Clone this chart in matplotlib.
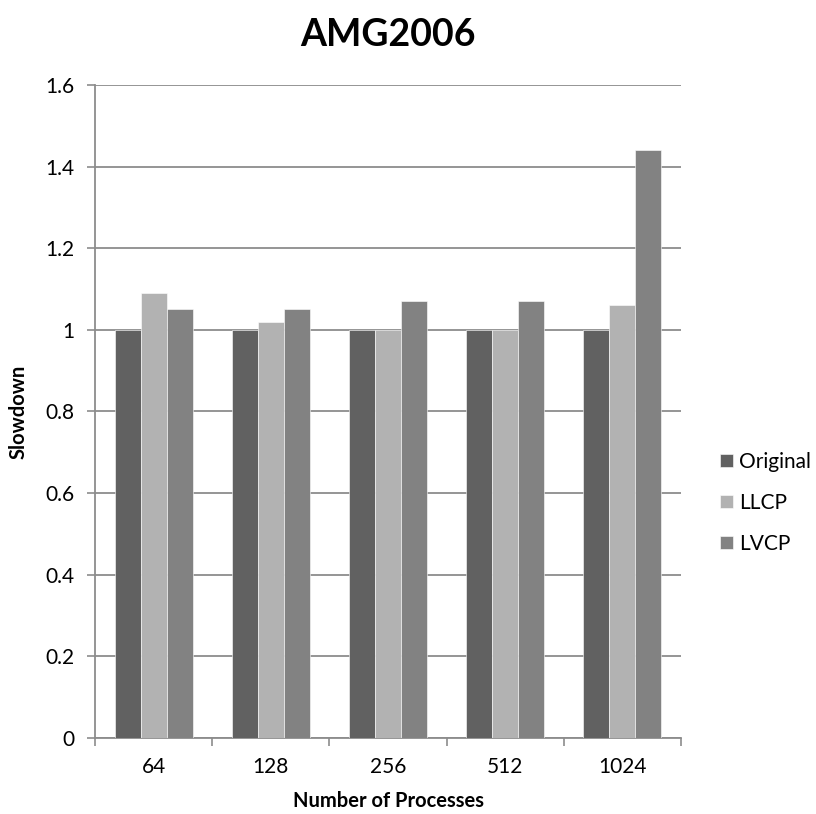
import matplotlib.pyplot as plt
import numpy as np

plt.rcParams['font.family'] = ['Lato', 'DejaVu Sans']

processes = ['64', '128', '256', '512', '1024']
original = [1.0, 1.0, 1.0, 1.0, 1.0]
llcp = [1.09, 1.02, 1.0, 1.0, 1.06]
lvcp = [1.05, 1.05, 1.07, 1.07, 1.44]

series = [('Original', original, '#616161'),
          ('LLCP', llcp, '#b2b2b2'),
          ('LVCP', lvcp, '#828282')]

fig = plt.figure(figsize=(8.16, 8.14), dpi=100)
ax = fig.add_axes([0.1164, 0.0934, 0.7182, 0.8022])

x = np.arange(len(processes))
w = 1 / 4.5  # excel gap width 150%
for i, (name, vals, col) in enumerate(series):
    ax.bar(x + (i - 1) * w, vals, w, color=col, label=name,
           edgecolor='white', linewidth=0.4, zorder=3)

ax.set_xlim(-0.5, len(processes) - 0.5)
ax.set_ylim(0, 1.6)
ax.set_yticks(np.arange(0, 1.61, 0.2))
ax.set_yticklabels(['0', '0.2', '0.4', '0.6', '0.8', '1', '1.2', '1.4', '1.6'])
ax.set_xticks(x)
ax.set_xticklabels(processes)
ax.set_xticks(np.arange(-0.5, len(processes)), minor=True)
ax.tick_params(axis='x', which='major', length=0, pad=14, labelsize=15)
ax.tick_params(axis='x', which='minor', length=6, width=1.2, color='#8c8c8c', direction='out')
ax.tick_params(axis='y', length=6, width=1.2, color='#8c8c8c', pad=9, labelsize=15)

ax.yaxis.grid(True, color='#8c8c8c', linewidth=1.3, zorder=0)
ax.set_axisbelow(True)
for s in ['top', 'right']:
    ax.spines[s].set_visible(False)
for s in ['left', 'bottom']:
    ax.spines[s].set_color('#8c8c8c')
    ax.spines[s].set_linewidth(1.3)

ax.set_title('AMG2006', fontsize=27, fontweight='bold', pad=28)
ax.set_xlabel('Number of Processes', fontsize=14.5, fontweight='bold', labelpad=10)
ax.set_ylabel('Slowdown', fontsize=14.5, fontweight='bold', labelpad=12)

ax.legend(loc='center left', bbox_to_anchor=(1.035, 0.36), frameon=False,
          fontsize=15, handlelength=0.6, handleheight=0.6, handletextpad=0.3,
          labelspacing=1.0)

fig.savefig('out.png', dpi=100)
